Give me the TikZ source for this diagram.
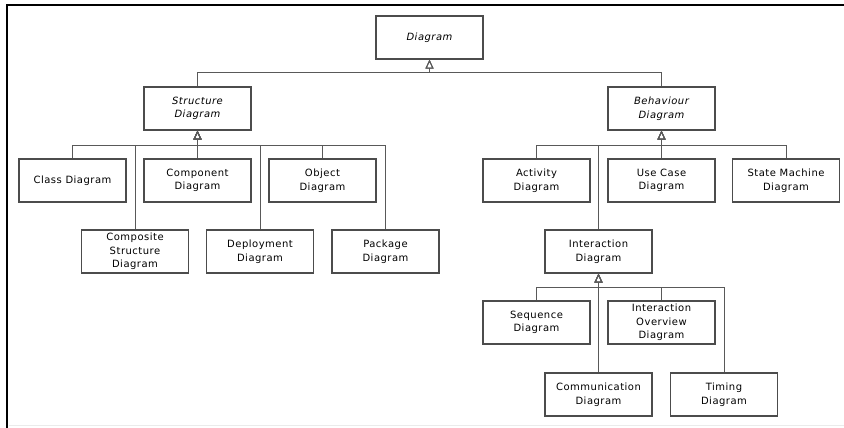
\documentclass[tikz,border=0pt]{standalone}
\usepackage{fontspec}
\setmainfont{DejaVu Sans}[LetterSpace=5]
\usepackage{tikz}
\usetikzlibrary{arrows.meta, positioning, calc}

\begin{document}
\begin{tikzpicture}[
    x=1pt, y=-1pt,
    % Styles
    kind/.style={rectangle, draw=black!70, line width=1.1pt, fill=white, minimum width=107pt, minimum height=43pt, inner sep=1pt, align=center, font=\fontsize{10}{13.5}\selectfont},
    abstract/.style={kind, font=\fontsize{10}{13.5}\selectfont\itshape},
    gen/.style={-{Triangle[open, width=8pt, length=9pt]}, draw=black!65, line width=1pt},
]

\useasboundingbox (0,0) rectangle (844,428);

% ===== FRAME =====
\draw[line width=2.4pt] (7,428) -- (7,5) -- (844,5);
\draw[black!8, line width=1pt] (9,425) -- (844,425);

% ===== ROOT =====
\node[abstract] (diagram) at (429.5, 37.5) {Diagram};

% ===== SECOND LEVEL =====
\node[abstract] (structure) at (197.5, 108.5) {Structure\\Diagram};
\node[abstract] (behaviour) at (661.5, 108.5) {Behaviour\\Diagram};

% ===== STRUCTURE DIAGRAMS =====
\node[kind] (class) at (72.5, 180.5) {Class Diagram};
\node[kind] (component) at (197.5, 180.5) {Component\\Diagram};
\node[kind] (object) at (322.5, 180.5) {Object\\Diagram};
\node[kind] (composite) at (135, 251.5) {Composite\\Structure\\Diagram};
\node[kind] (deployment) at (260, 251.5) {Deployment\\Diagram};
\node[kind] (package) at (385.5, 251.5) {Package\\Diagram};

% ===== BEHAVIOUR DIAGRAMS =====
\node[kind] (activity) at (536.5, 180.5) {Activity\\Diagram};
\node[kind] (usecase) at (661.5, 180.5) {Use Case\\Diagram};
\node[kind] (statemachine) at (786, 180.5) {State Machine\\Diagram};
\node[kind] (interaction) at (598.5, 251.5) {Interaction\\Diagram};

% ===== INTERACTION DIAGRAMS =====
\node[kind] (sequence) at (536.5, 322.5) {Sequence\\Diagram};
\node[kind] (overview) at (661.5, 322.5) {Interaction\\Overview\\Diagram};
\node[kind] (communication) at (598.5, 394.5) {Communication\\Diagram};
\node[kind] (timing) at (724, 394.5) {Timing\\Diagram};

% ===== BUSES =====
\coordinate (rootbus) at (429.5, 73);
\coordinate (structbus) at (197.5, 145);
\coordinate (behavbus) at (661.5, 145);
\coordinate (interbus) at (598.5, 287);

% ===== GENERALIZATIONS =====
% Level two to root
\draw[gen] (structure.north) |- (rootbus) -- (diagram.south);
\draw[gen] (behaviour.north) |- (rootbus) -- (diagram.south);

% Structure children
\draw[gen] (class.north) |- (structbus) -- (structure.south);
\draw[gen] (component.north) -- (structure.south);
\draw[gen] (object.north) |- (structbus) -- (structure.south);
\draw[gen] (composite.north) |- (structbus) -- (structure.south);
\draw[gen] (deployment.north) |- (structbus) -- (structure.south);
\draw[gen] (package.north) |- (structbus) -- (structure.south);

% Behaviour children
\draw[gen] (activity.north) |- (behavbus) -- (behaviour.south);
\draw[gen] (usecase.north) -- (behaviour.south);
\draw[gen] (statemachine.north) |- (behavbus) -- (behaviour.south);
\draw[gen] (interaction.north) |- (behavbus) -- (behaviour.south);

% Interaction children
\draw[gen] (sequence.north) |- (interbus) -- (interaction.south);
\draw[gen] (overview.north) |- (interbus) -- (interaction.south);
\draw[gen] (communication.north) -- (interaction.south);
\draw[gen] (timing.north) |- (interbus) -- (interaction.south);

\end{tikzpicture}
\end{document}
